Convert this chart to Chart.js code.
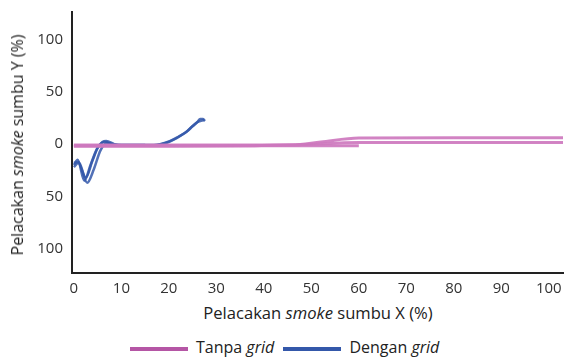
<!DOCTYPE html>
<html>
<head>
<meta charset="utf-8">
<script src="https://cdn.jsdelivr.net/npm/chart.js@4"></script>
<style>
  body { margin: 0; background: #fff; font-family: "Open Sans", sans-serif; color: #222; }
  #wrap { position: relative; width: 564px; height: 358px; }
  #box { position: absolute; left: 0; top: 0; width: 564px; height: 300px; }
  .ttl { position: absolute; font-size: 16px; white-space: nowrap; }
  #xt { left: 0; width: 636px; top: 301px; text-align: center; font-size: 16.6px; }
  #yt { left: 17px; top: 145px; transform: translate(-50%, -50%) rotate(-90deg); }
  #leg { position: absolute; top: 336px; left: 130px; font-size: 16px; white-space: nowrap; }
  #leg span.sw { display: inline-block; width: 58px; height: 4px; vertical-align: middle; margin-right: 8px; }
  #leg span.it { margin-right: 5px; }
</style>
</head>
<body>
<div id="wrap">
  <div id="box"><canvas id="myChart"></canvas></div>
  <div class="ttl" id="xt">Pelacakan <i>smoke</i> sumbu X (%)</div>
  <div class="ttl" id="yt">Pelacakan <i>smoke</i> sumbu Y (%)</div>
  <div id="leg">
    <span class="sw" style="background: rgb(181, 86, 165);"></span><span class="it">Tanpa <i>grid</i></span>
    <span class="sw" style="background: rgb(52, 88, 170);"></span><span class="it">Dengan <i>grid</i></span>
  </div>
</div>
<script>
// tick labels
const xTicks = [0, 10, 20, 30, 40, 50, 60, 70, 80, 90, 100];
const yTicks = [-100, -50, 0, 50, 100];

// Tanpa grid (several runs)
const tanpaX1 = [0, 20, 40, 60];
const tanpaY1 = [-2, -2, -1.5, -1.5];
const tanpaX2 = [0, 30, 46, 52, 60, 80, 103];
const tanpaY2 = [-1, -1, -1, 2, 5.8, 6, 6];
const tanpaX3 = [0, 38, 48, 60, 103];
const tanpaY3 = [-1.5, -1.5, -0.5, 1.5, 1.5];

// Dengan grid (several runs)
const denganX1 = [0, 0.8, 2.2, 3.5, 4.8, 6, 6.8, 8.5, 10, 13, 16.7, 20.3, 22, 23.8, 25, 26, 26.6, 27.2, 27.6];
const denganY1 = [-20, -15, -35, -20, -5, 2, 3, 0, -1.5, -1.5, -1.2, 3, 7, 12, 17, 21, 24, 24, 22];
const denganX2 = [0, 0.9, 2.5, 3.9, 5.2, 6.5, 8.5, 12, 17, 20, 23.5, 26, 27.5];
const denganY2 = [-22, -18, -32, -16, -2, 2, -0.5, -1, -1, 2, 11, 21, 23];
const denganX3 = [0, 1, 2.8, 4.2, 5.6, 7, 9, 15];
const denganY3 = [-18, -17, -37, -24, -6, 1, -1, -1];

const pink = 'rgba(205, 120, 190, 0.9)';
const pinkCore = 'rgba(248, 215, 240, 0.95)';
const blue = 'rgba(52, 88, 170, 0.85)';

function pts(xs, ys) {
    return xs.map((x, i) => ({ x: x, y: ys[i] }));
}

function run(label, xs, ys, color, width) {
    return {
        label: label,
        data: pts(xs, ys),
        borderColor: color,
        borderWidth: width,
        pointRadius: 0,
        fill: false,
        tension: 0.4,
        cubicInterpolationMode: 'monotone'
    };
}

const ctx = document.getElementById('myChart').getContext('2d');
new Chart(ctx, {
    type: 'line',
    data: {
        datasets: [
            run('Tanpa grid', tanpaX1, tanpaY1, pink, 3),
            run('Tanpa grid', tanpaX2, tanpaY2, pink, 3),
            run('Tanpa grid', tanpaX3, tanpaY3, pink, 3),
            run('', tanpaX1, tanpaY1, pinkCore, 1),
            run('', tanpaX2, tanpaY2, pinkCore, 1),
            run('', tanpaX3, tanpaY3, pinkCore, 1),
            run('Dengan grid', denganX1, denganY1, blue, 2.5),
            run('Dengan grid', denganX2, denganY2, blue, 2.5),
            run('Dengan grid', denganX3, denganY3, blue, 2.5)
        ]
    },
    options: {
        responsive: true,
        maintainAspectRatio: false,
        animation: false,
        layout: { padding: { top: 12, right: 1, left: 0, bottom: 0 } },
        plugins: { legend: { display: false }, tooltip: { enabled: false } },
        scales: {
            x: {
                type: 'linear',
                min: -0.4,
                max: 103,
                grid: { display: false, drawTicks: false },
                border: { display: true, color: '#222', width: 2 },
                afterBuildTicks: (scale) => { scale.ticks = xTicks.map(v => ({ value: v })); },
                afterFit: (scale) => {
                    scale.height = 27;
                    scale.paddingLeft = 0;
                    scale.paddingRight = 0;
                },
                ticks: { color: '#333', padding: 7, maxRotation: 0, font: { family: 'Open Sans', size: 15 } }
            },
            y: {
                type: 'linear',
                min: -123,
                max: 126,
                grid: { display: false, drawTicks: false },
                border: { display: true, color: '#222', width: 2 },
                afterBuildTicks: (scale) => { scale.ticks = yTicks.map(v => ({ value: v })); },
                afterFit: (scale) => {
                    scale.width = 72;
                    scale.paddingTop = 0;
                    scale.paddingBottom = 0;
                },
                ticks: {
                    color: '#333',
                    padding: 9,
                    font: { family: 'Open Sans', size: 15 },
                    callback: (v) => Math.abs(v)
                }
            }
        }
    }
});
</script>
</body>
</html>
